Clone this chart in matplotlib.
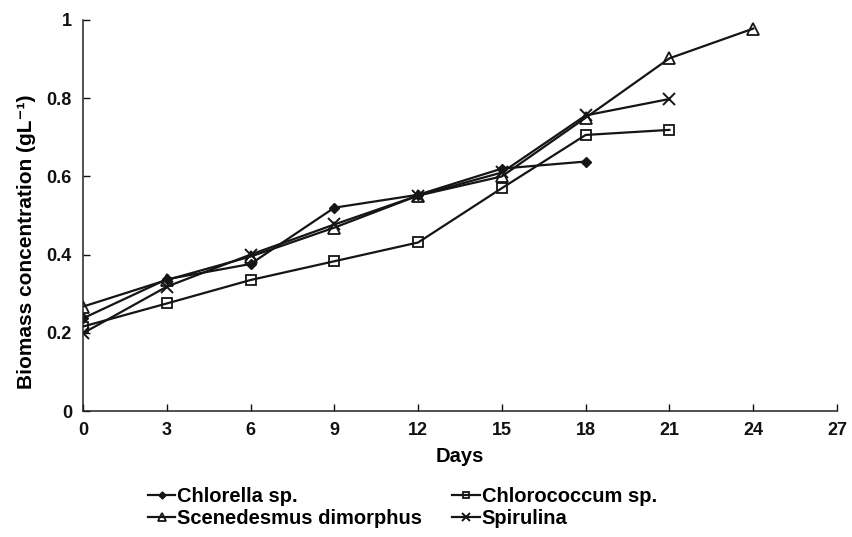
import matplotlib.pyplot as plt

plt.rcParams['font.family'] = ['Liberation Sans', 'DejaVu Sans']
plt.rcParams['font.weight'] = 'bold'

days = [0, 3, 6, 9, 12, 15, 18, 21, 24]
chlorella = [0.237, 0.337, 0.376, 0.520, 0.553, 0.620, 0.638]
chlorococcum = [0.216, 0.275, 0.335, 0.383, 0.431, 0.570, 0.706, 0.719]
scenedesmus = [0.267, 0.335, 0.395, 0.469, 0.551, 0.600, 0.750, 0.902, 0.978]
spirulina = [0.199, 0.318, 0.400, 0.477, 0.551, 0.610, 0.756, 0.798]

fig = plt.figure(figsize=(8.52, 5.37), dpi=100)
ax = fig.add_axes([83/852, 1 - 411/537, (837-83)/852, (411-20)/537])

lw = 1.6
ink = '#151515'
l1, = ax.plot(days[:len(chlorella)], chlorella, color=ink, lw=lw, marker='D', ms=5.5,
              mfc=ink, mec=ink, label='Chlorella sp.')
l2, = ax.plot(days[:len(chlorococcum)], chlorococcum, color=ink, lw=lw, marker='s', ms=7.5,
              mfc='none', mec=ink, mew=1.3, label='Chlorococcum sp.')
l3, = ax.plot(days[:len(scenedesmus)], scenedesmus, color=ink, lw=lw, marker='^', ms=8.5,
              mfc='none', mec=ink, mew=1.3, label='Scenedesmus dimorphus')
l4, = ax.plot(days[:len(spirulina)], spirulina, color=ink, lw=lw, marker='x', ms=8.5,
              mec=ink, mew=1.4, label='Spirulina')

ax.set_xlim(0, 27)
ax.set_ylim(0, 1)
ax.set_xticks(range(0, 28, 3))
ax.set_yticks([0, 0.2, 0.4, 0.6, 0.8, 1])
ax.set_yticklabels(['0', '0.2', '0.4', '0.6', '0.8', '1'])
ax.spines['top'].set_visible(False)
ax.spines['right'].set_visible(False)
for s in ['left', 'bottom']:
    ax.spines[s].set_linewidth(1.1)
    ax.spines[s].set_color('#222222')
ax.tick_params(direction='in', length=5, width=1, labelsize=13, pad=8, colors='#111111')
ax.set_xlabel('Days', fontsize=14.5, fontweight='bold', labelpad=6)
ax.set_ylabel('Biomass concentration (gL\u207b\u00b9)', fontsize=15, fontweight='bold')
ax.yaxis.set_label_coords(-0.062, 0.432)

fig.legend([l1, l3, l2, l4], ['Chlorella sp.', 'Scenedesmus dimorphus', 'Chlorococcum sp.', 'Spirulina'],
           ncol=2, loc='upper left', bbox_to_anchor=(148/852, 1 - 487/537), frameon=False,
           fontsize=14.5, handlelength=1.35, handletextpad=0.1, columnspacing=1.5,
           labelspacing=0.15, markerscale=0.65, borderpad=0, borderaxespad=0)

fig.savefig('out.png', dpi=100)
